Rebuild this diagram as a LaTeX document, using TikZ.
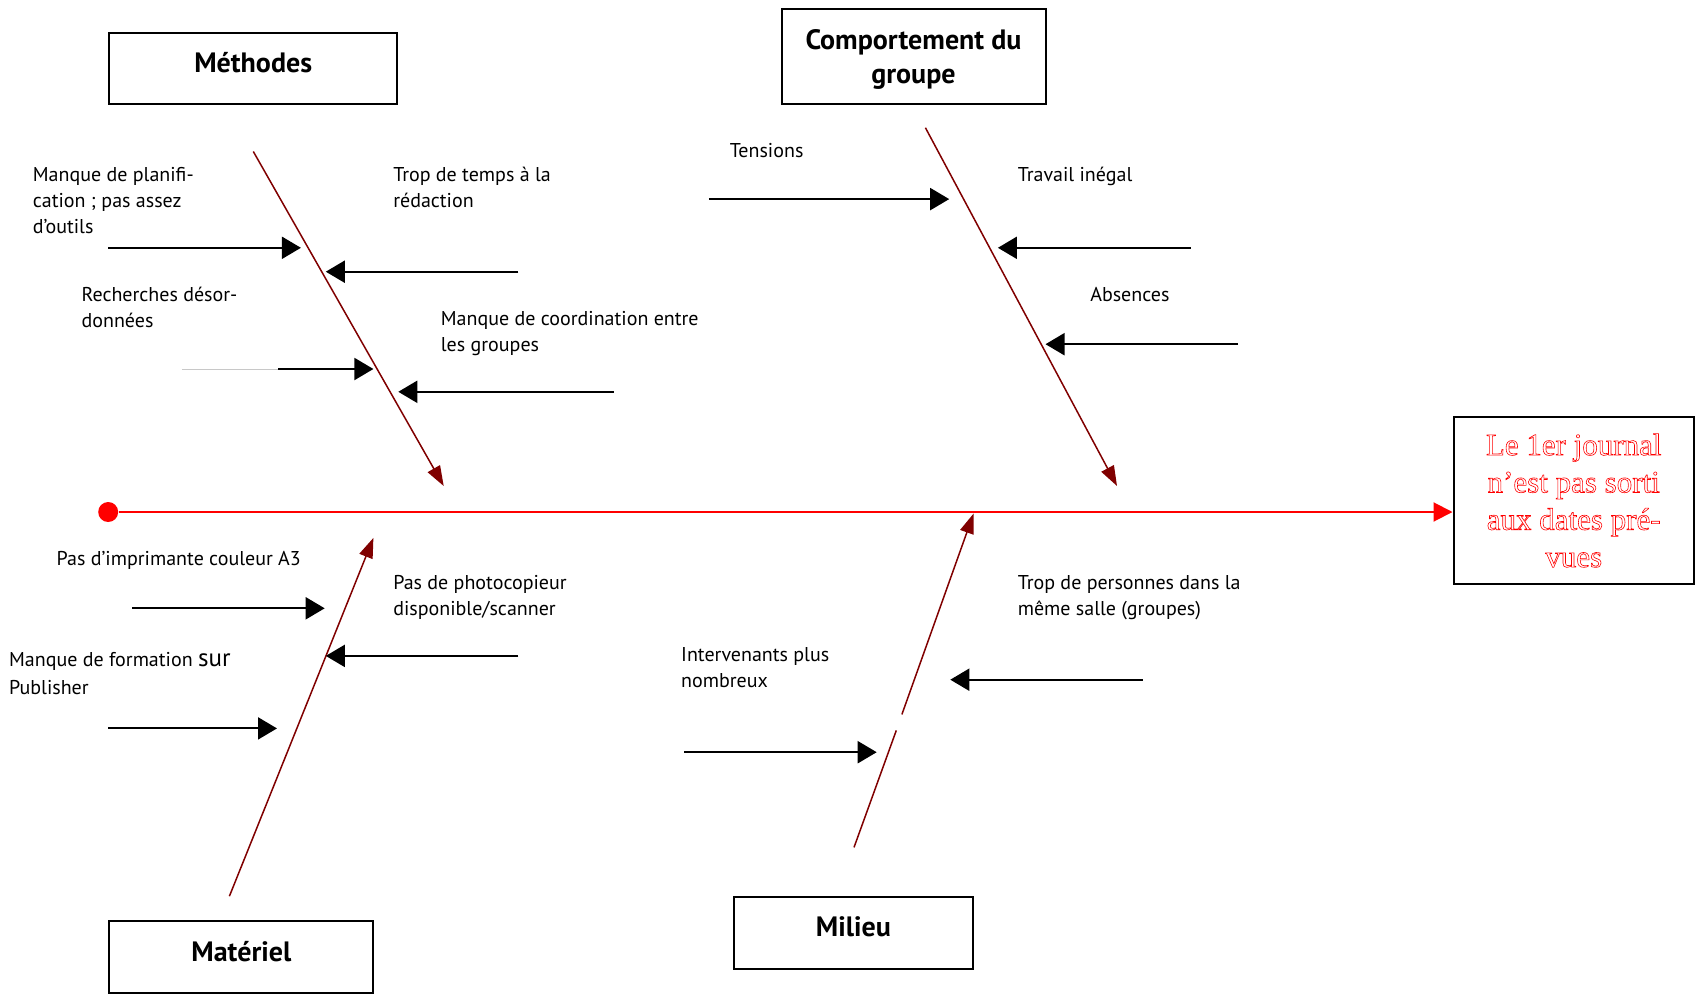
\documentclass[tikz,border=0pt]{standalone}
\usepackage{fontspec}
\setmainfont{PT Sans}
\newfontfamily\effectfont{Liberation Serif}
\usetikzlibrary{arrows.meta}
\definecolor{bone}{HTML}{800000}
\definecolor{spine}{HTML}{FF0000}
\definecolor{faint}{HTML}{C8C8C8}
\tikzset{
  catbox/.style={draw=black,line width=1pt,inner sep=0pt,align=center,
    font=\bfseries\fontsize{14}{18.4}\selectfont},
  lbl/.style={anchor=base west,inner sep=0pt,align=left,
    font=\fontsize{10}{13}\selectfont},
  bonearrow/.style={draw=bone,line width=0.75pt,-{Triangle[length=10pt,width=7pt]}},
  boneline/.style={draw=bone,line width=0.75pt},
  causearrow/.style={draw=black,line width=1pt,-{Triangle[length=9.5pt,width=11pt]}},
}
\begin{document}
\begin{tikzpicture}[x=0.5pt,y=-0.5pt]
\useasboundingbox (0,0) rectangle (1697,1001);

% category boxes
\node[catbox,minimum width=144pt,minimum height=35.7pt] (methodes) at (253.25,68.2) {\raisebox{-2.2pt}[0pt][0pt]{Méthodes}};
\node[catbox,minimum width=132pt,minimum height=47.6pt] (comport) at (913.5,56.3)
  {\raisebox{-5pt}[0pt][0pt]{\begin{tabular}{@{}c@{}}Comportement du\\[-1.2pt]groupe\end{tabular}}};
\node[catbox,minimum width=132pt,minimum height=35.75pt] (materiel) at (241.35,956.75) {\raisebox{-2.2pt}[0pt][0pt]{Matériel}};
\node[catbox,minimum width=119.6pt,minimum height=35.75pt] (milieu) at (853.4,932.95) {\raisebox{-1.7pt}[0pt][0pt]{Milieu}};

% spine
\node[circle,fill=spine,inner sep=0pt,minimum size=10pt] (start) at (108.2,512) {};

% bones coordinates
\coordinate (mA) at (253.3,151.5);  \coordinate (mB) at (443.7,486);
\coordinate (cA) at (925.4,127.7);  \coordinate (cB) at (1117,486);
\coordinate (tA) at (229.4,896.2);  \coordinate (tB) at (373.4,537.9);
\coordinate (lA) at (854,847.4);    \coordinate (lG1) at (896.3,730.4);
\coordinate (lG2) at (901.9,714.4); \coordinate (lB) at (973.6,513.5);

\draw[bonearrow] (mA) -- (mB);
\draw[bonearrow] (cA) -- (cB);
\draw[bonearrow] (tA) -- (tB);
\draw[boneline] (lA) -- (lG1);
\draw[bonearrow] (lG2) -- (lB);

% cause arrows coordinates
\coordinate (a1s) at (108.2,247.8); \coordinate (a1e) at (300.9,247.8);
\coordinate (a2s) at (518.4,271.7); \coordinate (a2e) at (325.8,271.7);
\coordinate (a3g) at (181.8,369);   \coordinate (a3s) at (278,369);  \coordinate (a3e) at (373.4,369);
\coordinate (a4s) at (613.7,391.8); \coordinate (a4e) at (398.3,391.8);
\coordinate (a5s) at (708.9,199.1); \coordinate (a5e) at (949.2,199.1);
\coordinate (a6s) at (1190.5,247.8);\coordinate (a6e) at (997.9,247.8);
\coordinate (a7s) at (1238.1,344.2);\coordinate (a7e) at (1045.5,344.2);
\coordinate (a8s) at (132,608.3);   \coordinate (a8e) at (324.7,608.3);
\coordinate (a9s) at (518.4,655.9); \coordinate (a9e) at (325.8,655.9);
\coordinate (a10s) at (108.2,728.4);\coordinate (a10e) at (277,728.4);
\coordinate (a11s) at (1142.9,679.7);\coordinate (a11e) at (950.3,679.7);
\coordinate (a12s) at (684,752.2);  \coordinate (a12e) at (876.7,752.2);

\draw[causearrow] (a1s) -- (a1e);
\draw[causearrow] (a2s) -- (a2e);
\draw[draw=faint,line width=0.5pt] (a3g) -- (a3s);
\draw[causearrow] (a3s) -- (a3e);
\draw[causearrow] (a4s) -- (a4e);
\draw[causearrow] (a5s) -- (a5e);
\draw[causearrow] (a6s) -- (a6e);
\draw[causearrow] (a7s) -- (a7e);
\draw[causearrow] (a8s) -- (a8e);
\draw[causearrow] (a9s) -- (a9e);
\draw[causearrow] (a10s) -- (a10e);
\draw[causearrow] (a11s) -- (a11e);
\draw[causearrow] (a12s) -- (a12e);

% labels (anchored at the baseline of their last line)
\node[lbl] (l1) at (32.5,233.3) {Manque de planifi-\\cation ; pas assez\\d’outils};
\node[lbl] (l2) at (392.9,207.3) {Trop de temps à la\\rédaction};
\node[lbl] (l3) at (81.2,327.5) {Recherches désor-\\données};
\node[lbl] (l4) at (440.5,351.3) {Manque de coordination entre\\les groupes};
\node[lbl] (l5) at (729.5,157.5) {Tensions};
\node[lbl] (l6) at (1017.4,181.3) {Travail inégal};
\node[lbl] (l7) at (1089.9,301.5) {Absences};
\node[lbl] (l8) at (56.3,565.6) {Pas d’imprimante couleur A3};
\node[lbl] (l9) at (392.9,615.4) {Pas de photocopieur\\disponible/scanner};
\begin{scope}
\clip (0,630) rectangle (400,697);
\node[lbl,font=\fontsize{10}{14}\selectfont] (l10) at (8.7,694.2) {Manque de formation {\fontsize{12.5}{14}\selectfont sur}\\Publisher};
\end{scope}
\node[lbl] (l11) at (680.8,687.9) {Intervenants plus\\nombreux};
\node[lbl] (l12) at (1017.4,615.4) {Trop de personnes dans la\\même salle (groupes)};

% effect
\node[draw=black,line width=1pt,minimum width=120.2pt,minimum height=83.9pt,inner sep=0pt,align=center,
  font=\effectfont\fontsize{15.5}{18.65}\selectfont,text=spine] (effect) at (1573.7,500.5)
  {\special{pdf:literal direct 1 Tr 0.3 w}Le 1er journal\\n’est pas sorti\\aux dates pré-\\vues\special{pdf:literal direct 0 Tr 1 w}};

\draw[draw=spine,line width=1pt,-{Triangle[length=9.5pt,width=9.5pt]}] (start) -- (start -| effect.west);
\end{tikzpicture}
\end{document}
